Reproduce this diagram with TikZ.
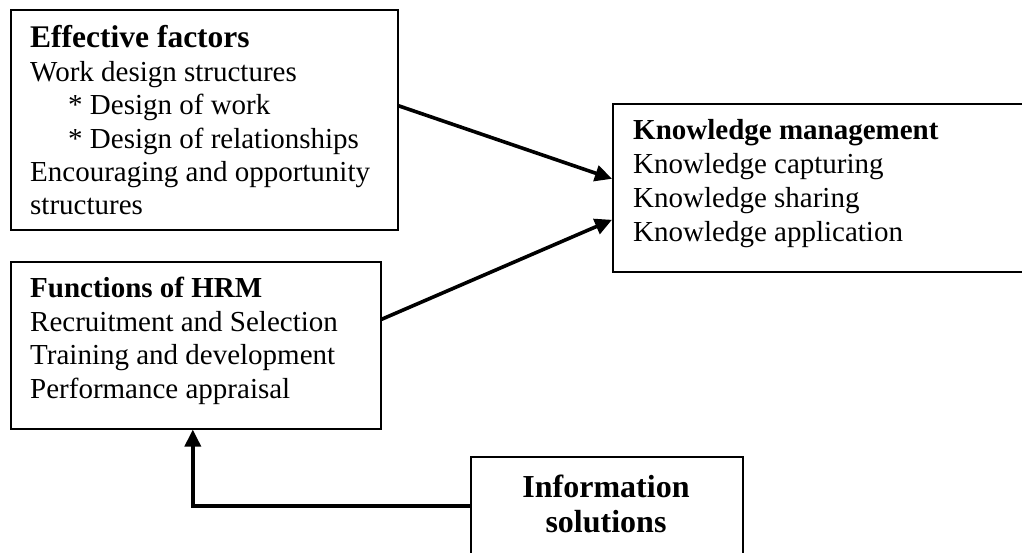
\documentclass[tikz,border=0pt]{standalone}
\usepackage{fontspec}
\setmainfont{Liberation Serif}
\usetikzlibrary{arrows.meta}

\begin{document}
\begin{tikzpicture}[x=1pt, y=-1pt,
  box/.style={draw, line width=1.6pt, inner sep=0pt, anchor=north west},
  % multi-line text nodes are placed by the baseline of their last line
  boxtext/.style={anchor=base west, align=left, inner sep=0pt,
    font=\fontsize{29}{33.4}\selectfont},
  arr/.style={line width=3.6pt, -{Triangle[length=17pt, width=16pt]}}]
  \useasboundingbox (0,0) rectangle (1022,553);
  \clip (0,0) rectangle (1022,553);

  % boxes
  \node[box, minimum width=387pt, minimum height=220pt] (ef) at (10,9) {};
  \node[box, minimum width=370pt, minimum height=167pt] (hrm) at (10,261) {};
  \node[box, minimum width=430pt, minimum height=168pt] (km) at (612,103) {};
  \node[box, minimum width=272pt, minimum height=130pt] (info) at (470,456) {};

  % box contents
  \node[boxtext] (ef-text) at (30,215)
    {{\bfseries\fontsize{31.5}{33.4}\selectfont Effective factors}\\
     Work design structures\\
     \hspace*{38pt}* Design of work\\
     \hspace*{38pt}* Design of relationships\\
     Encouraging and opportunity\\
     structures};
  \node[boxtext] (hrm-text) at (30,398)
    {\textbf{Functions of HRM}\\
     Recruitment and Selection\\
     Training and development\\
     Performance appraisal};
  \node[boxtext, font=\fontsize{29}{34}\selectfont] (km-text) at (633,242)
    {\textbf{Knowledge management}\\
     Knowledge capturing\\
     Knowledge sharing\\
     Knowledge application};
  \node[anchor=base, align=center, inner sep=0pt,
        font=\bfseries\fontsize{32}{35}\selectfont] (info-text) at (606,532)
    {Information\\solutions};

  % connectors
  \draw[arr] ([yshift=14pt]ef.east) -- ([yshift=9pt]km.west);
  \draw[arr] ([yshift=26pt]hrm.east) -- ([yshift=-32pt]km.west);
  \draw[arr] ([yshift=16pt]info.west) -| ([xshift=-3pt]hrm.south);
\end{tikzpicture}
\end{document}
